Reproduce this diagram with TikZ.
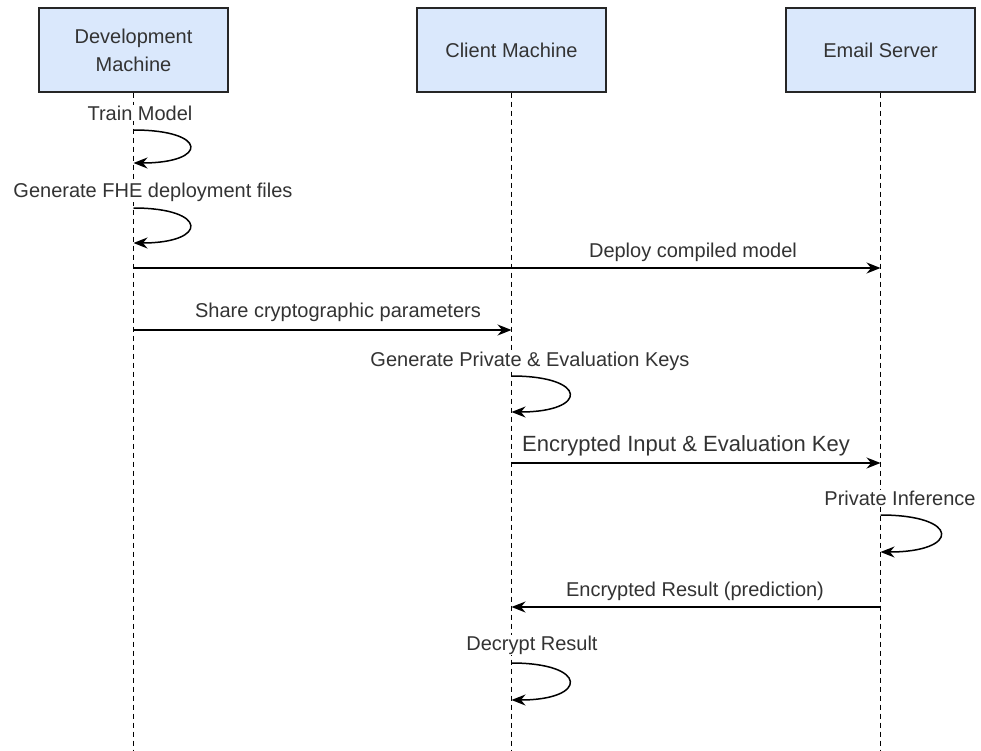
\documentclass[tikz,border=0pt]{standalone}
\usepackage{fontspec}
\setmainfont{Liberation Sans}
\usetikzlibrary{arrows.meta}
\definecolor{boxblue}{HTML}{DAE8FC}
\definecolor{txt}{HTML}{333333}
\begin{document}
\begin{tikzpicture}[x=1pt,y=-1pt,
  actor/.style={draw=black!85, line width=1.4pt, fill=boxblue, minimum width=189pt, minimum height=84pt, align=center, text=txt, font=\fontsize{20}{28}\selectfont},
  lifeline/.style={dash pattern=on 5pt off 4pt, line width=1.2pt},
  msg/.style={line width=1.5pt, -{Stealth[length=14pt,width=11pt]}},
  lbl/.style={font=\fontsize{20}{24}\selectfont, text=txt, fill=white, inner sep=1pt},
]
\useasboundingbox (0,0) rectangle (981,751);
% actors
\node[actor] (dev) at (133.5,50) {Development\\Machine};
\node[actor] (cli) at (511.5,50) {Client Machine};
\node[actor] (srv) at (880.5,50) {Email Server};
\coordinate (devEnd) at (133.5,751);
\coordinate (cliEnd) at (511.5,751);
\coordinate (srvEnd) at (880.5,751);
\draw[lifeline] (dev.south) -- (devEnd);
\draw[lifeline] (cli.south) -- (cliEnd);
\draw[lifeline] (srv.south) -- (srvEnd);
% points on lifelines
\coordinate (d1a) at (133.5,130); \coordinate (d1b) at (133.5,163);
\coordinate (d2a) at (133.5,208); \coordinate (d2b) at (133.5,243);
\coordinate (d3) at (133.5,268);  \coordinate (s1) at (880.5,268);
\coordinate (d4) at (133.5,330);  \coordinate (c1) at (511.5,330);
\coordinate (c2a) at (511.5,376); \coordinate (c2b) at (511.5,412);
\coordinate (c3) at (511.5,463);  \coordinate (s2) at (880.5,463);
\coordinate (s3a) at (880.5,515); \coordinate (s3b) at (880.5,552);
\coordinate (s4) at (880.5,607);  \coordinate (c4) at (511.5,607);
\coordinate (c5a) at (511.5,663); \coordinate (c5b) at (511.5,700);
% labels
\node[lbl] (l1) at (140,113) {Train Model};
\node[lbl] (l2) at (153,192) {Generate FHE deployment files};
\node[lbl] (l3) at (693,252) {Deploy compiled model};
\node[lbl] (l4) at (338,312) {Share cryptographic parameters};
\node[lbl] (l5) at (530,361) {Generate Private \& Evaluation Keys};
\node[lbl, font=\fontsize{22}{26}\selectfont] (l6) at (686,446) {Encrypted Input \& Evaluation Key};
\node[lbl] (l7) at (900,498) {Private Inference};
\node[lbl] (l8) at (695,591) {Encrypted Result (prediction)};
\node[lbl] (l9) at (532,645) {Decrypt Result};
% messages
\draw[msg] (d1a) .. controls +(75,0) and +(75,0) .. (d1b);
\draw[msg] (d2a) .. controls +(75,0) and +(75,0) .. (d2b);
\draw[msg] (d3) -- (s1);
\draw[msg] (d4) -- (c1);
\draw[msg] (c2a) .. controls +(77,0) and +(77,0) .. (c2b);
\draw[msg] (c3) -- (s2);
\draw[msg] (s3a) .. controls +(80,0) and +(80,0) .. (s3b);
\draw[msg] (s4) -- (c4);
\draw[msg] (c5a) .. controls +(77,0) and +(77,0) .. (c5b);
\end{tikzpicture}
\end{document}
